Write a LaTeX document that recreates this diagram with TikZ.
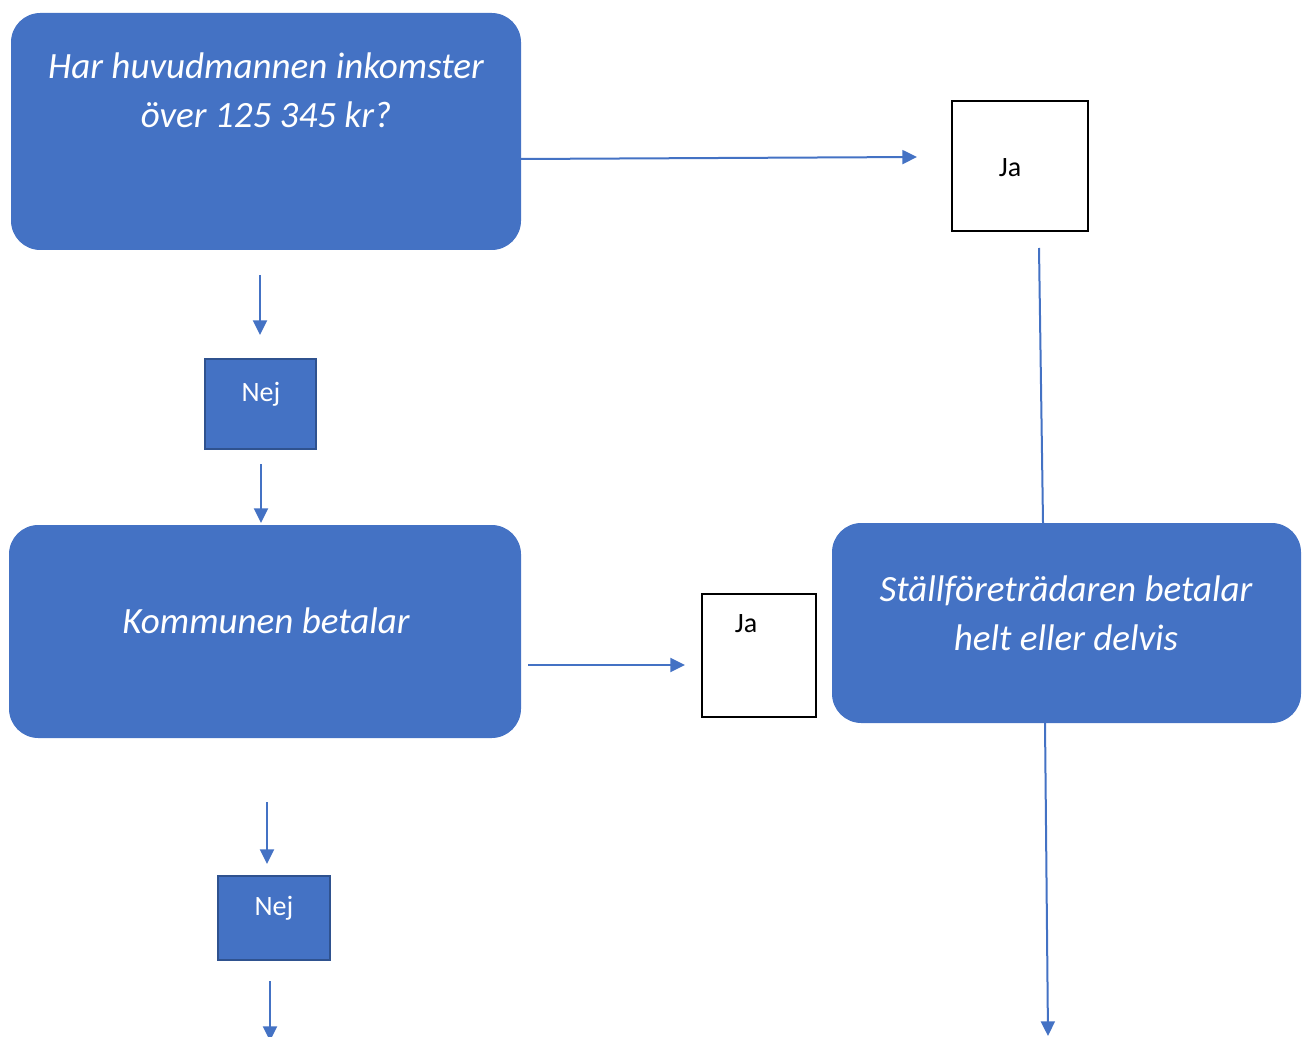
\documentclass[tikz,border=0pt]{standalone}
\usepackage{fontspec}
\setmainfont{Carlito}
\usetikzlibrary{arrows.meta}
\definecolor{wblue}{HTML}{4472C4}
\definecolor{wdark}{HTML}{2F528F}
\tikzset{
  bigbox/.style={fill=wblue, draw=none, rounded corners=22pt, inner sep=0pt},
  nejbox/.style={fill=wblue, draw=wdark, line width=1.2pt, inner sep=0pt},
  jabox/.style={fill=white, draw=black, line width=0.9pt, inner sep=0pt},
  bigtext/.style={text=white, font=\fontsize{27.8}{36.75}\selectfont\itshape, align=center, inner sep=0pt},
  smalltext/.style={font=\fontsize{21}{24}\selectfont, inner sep=0pt},
  arr/.style={draw=wblue, line width=1.5pt, -{Triangle[length=11pt,width=10.5pt]}},
  conn/.style={draw=wblue, line width=1.5pt}
}
\begin{document}
\begin{tikzpicture}[x=0.75pt,y=-0.75pt]
\useasboundingbox (0,0) rectangle (1308,1037);
% boxes
\node[bigbox, minimum width=510*0.75pt, minimum height=237*0.75pt] (A) at (266,131.5) {};
\node[bigtext] (At) at (266,90) {Har huvudmannen inkomster\\över 125 345 kr?};
\node[jabox, minimum width=136*0.75pt, minimum height=130*0.75pt] (ja1) at (1020,166) {};
\node[smalltext, anchor=base] (ja1t) at (1010,177) {Ja};
\node[nejbox, minimum width=111*0.75pt, minimum height=90*0.75pt] (nej1) at (260.5,404) {};
\node[smalltext, text=white, font=\fontsize{21}{24}\selectfont, anchor=base] (nej1t) at (261,401) {Nej};
\node[bigbox, minimum width=512*0.75pt, minimum height=213*0.75pt] (B) at (265,631.5) {};
\node[bigtext] (Bt) at (266,621) {Kommunen betalar};
\node[jabox, minimum width=114*0.75pt, minimum height=123*0.75pt] (ja2) at (759,655.5) {};
\node[smalltext, anchor=base] (ja2t) at (746,632) {Ja};
\node[bigbox, minimum width=469*0.75pt, minimum height=200*0.75pt] (C) at (1066.5,623) {};
\node[bigtext] (Ct) at (1066,613) {Ställföreträdaren betalar\\helt eller delvis};
\node[nejbox, minimum width=112*0.75pt, minimum height=84*0.75pt] (nej2) at (274,918) {};
\node[smalltext, text=white, font=\fontsize{21}{24}\selectfont, anchor=base] (nej2t) at (274,915) {Nej};
% coordinates for free ends
\coordinate (a1s) at (521,159);
\coordinate (a1e) at (917,157);
\coordinate (a2s) at (260,275);
\coordinate (a2e) at (260,335);
\coordinate (a3s) at (261,464);
\coordinate (a3e) at (261,523);
\coordinate (a4s) at (528,665);
\coordinate (a4e) at (685,665);
\coordinate (l1s) at (1039,248);
\coordinate (l1e) at (1043,523);
\coordinate (a5s) at (1045,723);
\coordinate (a5e) at (1048,1036);
\coordinate (a6s) at (267,802);
\coordinate (a6e) at (267,864);
\coordinate (a7s) at (270,981);
\coordinate (a7e) at (270,1041);
% connectors
\draw[arr] (a1s) -- (a1e);
\draw[arr] (a2s) -- (a2e);
\draw[arr] (a3s) -- (a3e);
\draw[arr] (a4s) -- (a4e);
\draw[conn] (l1s) -- (l1e);
\draw[arr] (a5s) -- (a5e);
\draw[arr] (a6s) -- (a6e);
\draw[arr] (a7s) -- (a7e);
\end{tikzpicture}
\end{document}
